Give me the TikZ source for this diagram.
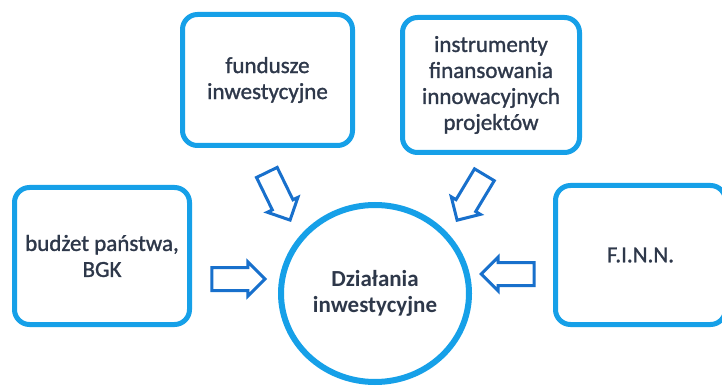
\documentclass[tikz,border=0pt]{standalone}
\usepackage{fontspec}
\setmainfont{Carlito}
\newfontfamily\medfont{Carlito}[RawFeature={embolden=1.2}]
\usetikzlibrary{shapes.arrows,shapes.geometric}
\definecolor{boxblue}{RGB}{22,160,232}
\definecolor{arrblue}{RGB}{24,112,204}
\definecolor{txt}{RGB}{46,56,74}
\tikzset{
  srcbox/.style={draw=boxblue, line width=5pt, rounded corners=15pt, fill=white,
    align=center, text=txt, font=\medfont\fontsize{23}{26}\selectfont, inner sep=0pt},
  hub/.style={draw=boxblue, line width=6pt, ellipse, fill=white, inner sep=0pt,
    align=center, text=txt, font=\bfseries\fontsize{23}{26}\selectfont},
  blockarrow/.style={single arrow, draw=arrblue, line width=3pt, fill=white,
    inner xsep=0pt, inner ysep=10pt, single arrow tip angle=90, minimum height=53pt,
    single arrow head extend=5.5pt, anchor=tip}
}
\begin{document}
\begin{tikzpicture}[x=1pt,y=-1pt]
\useasboundingbox (0,0) rectangle (722,387);
\fill[white] (0,0) rectangle (722,387);
\node[srcbox, minimum width=170pt, minimum height=131pt] (fund) at (267.5,80) {fundusze\\inwestycyjne};
\node[srcbox, minimum width=177pt, minimum height=135pt] (instr) at (491,85) {instrumenty\\finansowania\\innowacyjnych\\projektów};
\node[srcbox, minimum width=175pt, minimum height=137pt] (budzet) at (102,256) {budżet państwa,\\BGK};
\node[srcbox, minimum width=170pt, minimum height=139pt] (finn) at (640.5,255) {F.I.N.N.};
\node[hub, minimum width=188pt, minimum height=177pt] (hub) at (375,293.5) {Działania\\inwestycyjne};
\node[blockarrow, rotate=-64] (a1) at (291,222) {};
\node[blockarrow, rotate=-121] (a2) at (456,222) {};
\node[blockarrow, rotate=0] (a3) at (267,279) {};
\node[blockarrow, rotate=180] (a4) at (479,274) {};
\end{tikzpicture}
\end{document}
